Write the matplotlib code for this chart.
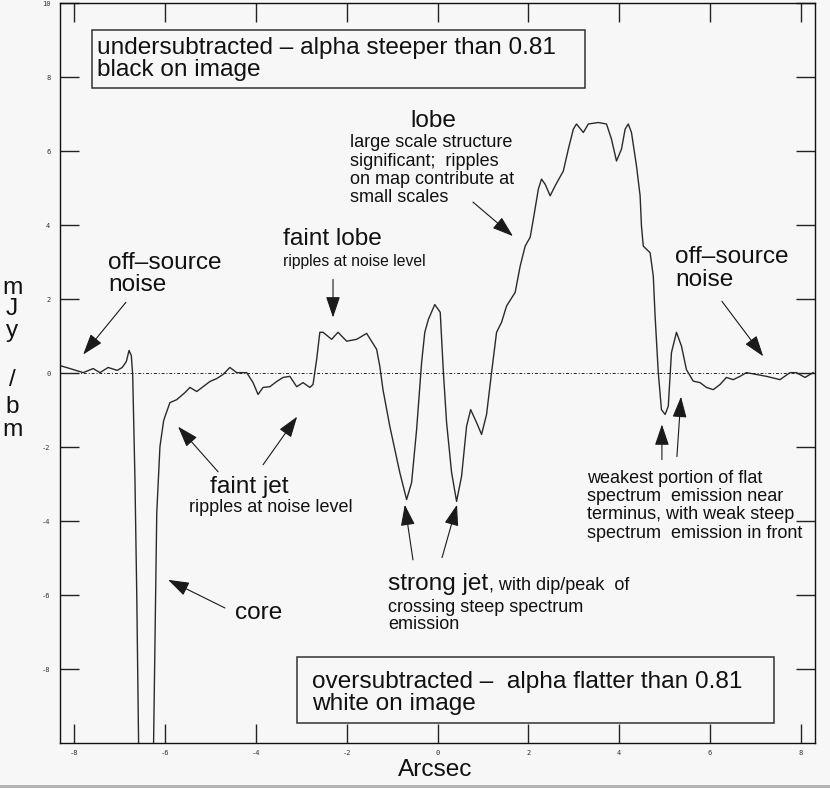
import matplotlib
matplotlib.use('Agg')
import matplotlib.pyplot as plt
from matplotlib.patches import Rectangle

# ---------------- data ----------------
arcsec = [-8.31, -8.09, -7.80, -7.58, -7.43, -7.25, -7.05, -6.94, -6.85, -6.79, -6.74, -6.71,
          -6.66, -6.62, -6.58, -6.42, -6.25, -6.18, -6.11, -6.03, -6.00, -5.89, -5.74, -5.56,
          -5.45, -5.30, -5.16, -5.01, -4.86, -4.72, -4.57, -4.42, -4.20, -4.06, -3.95, -3.84,
          -3.69, -3.54, -3.40, -3.25, -3.10, -2.96, -2.81, -2.74, -2.66, -2.59, -2.52, -2.33,
          -2.19, -2.00, -1.78, -1.56, -1.34, -1.27, -1.20, -1.05, -0.94, -0.83, -0.68, -0.57,
          -0.46, -0.35, -0.28, -0.20, -0.06, 0.06, 0.13, 0.20, 0.31, 0.42, 0.53, 0.64, 0.73,
          0.86, 0.97, 1.08, 1.19, 1.30, 1.41, 1.52, 1.71, 1.82, 1.93, 2.04, 2.11, 2.22, 2.29,
          2.37, 2.48, 2.59, 2.77, 2.88, 2.99, 3.06, 3.21, 3.32, 3.54, 3.72, 3.83, 3.94, 4.05,
          4.13, 4.20, 4.27, 4.38, 4.46, 4.49, 4.53, 4.68, 4.75, 4.79, 4.86, 4.93, 5.01, 5.08,
          5.15, 5.26, 5.37, 5.48, 5.63, 5.78, 5.92, 6.07, 6.22, 6.36, 6.51, 6.66, 6.80, 7.02,
          7.24, 7.54, 7.76, 7.90, 8.09, 8.27]
flux_mjy = [0.20, 0.12, 0.01, 0.12, 0.01, 0.15, 0.07, 0.15, 0.31, 0.61, 0.47, -0.04,
            -2.88, -6.02, -10.0, -13.0, -10.0, -3.78, -1.99, -1.30, -1.18, -0.80, -0.72, -0.53,
            -0.39, -0.50, -0.37, -0.23, -0.15, -0.04, 0.15, 0.01, 0.01, -0.26, -0.58, -0.39,
            -0.37, -0.23, -0.12, -0.09, -0.37, -0.26, -0.39, -0.31, 0.37, 1.10, 1.10, 0.91,
            1.10, 0.86, 0.91, 1.07, 0.64, 0.18, -0.45, -1.44, -2.07, -2.69, -3.42, -2.96,
            -1.53, 0.28, 1.10, 1.45, 1.85, 1.64, 0.01, -1.34, -2.69, -3.47, -2.79, -1.44, -0.99,
            -1.34, -1.66, -1.12, 0.01, 1.10, 1.37, 1.81, 2.18, 2.89, 3.43, 3.67, 4.16, 4.97, 5.24,
            5.10, 4.79, 5.06, 5.46, 6.05, 6.59, 6.73, 6.50, 6.73, 6.77, 6.73, 6.32, 5.73, 6.05,
            6.59, 6.73, 6.50, 5.60, 4.79, 3.97, 3.43, 3.25, 2.62, 1.54, 0.01, -0.99, -1.12, -0.90,
            0.55, 1.10, 0.73, 0.09, -0.22, -0.26, -0.39, -0.45, -0.31, -0.12, -0.18, -0.09, 0.01, -0.04,
            -0.09, -0.18, 0.01, 0.01, -0.12, 0.01]

xticks = [-8, -6, -4, -2, 0, 2, 4, 6, 8]
xtick_labels = ['-8', '-6', '-4', '-2', '0', '2', '4', '6', '8']
yticks = [-8, -6, -4, -2, 0, 2, 4, 6, 8, 10]
ytick_labels = ['-8', '-6', '-4', '-2', '0', '2', '4', '6', '8', '10']
xlim = (-8.31, 8.31)
ylim = (-10, 10)
xlabel = 'Arcsec'
ylabel_chars = ['m', 'J', 'y', '/', 'b', 'm']

box_top_text = 'undersubtracted \u2013 alpha steeper than 0.81\nblack on image'
box_bottom_text = 'oversubtracted \u2013  alpha flatter than 0.81\nwhite on image'

# ---------------- style ----------------
BG = '#f7f7f7'
INK = '#111111'
FONT = ['Liberation Sans', 'DejaVu Sans']
BIG = 17.6
SMALL = 13
plt.rcParams['font.family'] = FONT

fig = plt.figure(figsize=(8.3, 7.88), dpi=100, facecolor=BG)
ax = fig.add_axes([60 / 830, 45 / 788, 755 / 830, 740 / 788])
ax.set_facecolor(BG)

ax.plot(arcsec, flux_mjy, color='#2a2a2a', lw=1.0)
ax.axhline(0, color='#222222', lw=0.7, ls=(0, (3, 2, 1, 2)))

ax.set_xlim(*xlim)
ax.set_ylim(*ylim)
ax.set_xticks(xticks)
ax.set_xticklabels(xtick_labels, family='DejaVu Sans Mono', fontsize=5, color='#333333')
ax.set_yticks(yticks)
ax.set_yticklabels(ytick_labels, family='DejaVu Sans Mono', fontsize=5, color='#333333')
ax.tick_params(axis='both', direction='in', length=14, width=1.0, color='#222222',
               top=True, right=True)
ax.tick_params(axis='y', pad=7)
ax.tick_params(axis='x', pad=5)
for s in ax.spines.values():
    s.set_color(INK)
    s.set_linewidth(1.0)

# y label stacked characters
ylabel_y = [288, 309, 331, 380, 407, 430]
for ch, py in zip(ylabel_chars, ylabel_y):
    fig.text(12 / 830, 1 - py / 788, ch, ha='center', va='center', fontsize=BIG, color=INK)
fig.text(435 / 830, 1 - 770 / 788, xlabel, ha='center', va='center', fontsize=BIG, color=INK)

# bottom gray frame line
fig.patches.append(Rectangle((0, 0), 1, 3 / 788, transform=fig.transFigure,
                             facecolor='#b4b4b4', edgecolor='none'))

# boxes
ax.add_patch(Rectangle((-7.60, 7.70), 10.85, 1.57, fill=False, edgecolor='#333333', lw=1.1))
ax.text(-7.49, 8.49, box_top_text, ha='left', va='center', fontsize=BIG,
        linespacing=1.02, color=INK)
ax.add_patch(Rectangle((-3.09, -9.46), 10.50, 1.79, fill=False, edgecolor='#333333', lw=1.1))
ax.text(-2.76, -8.64, box_bottom_text, ha='left', va='center', fontsize=BIG,
        linespacing=0.98, color=INK)

ARROW = dict(arrowstyle='-|>,head_length=0.65,head_width=0.22', mutation_scale=20,
             lw=0.8, color='#1a1a1a', shrinkA=0, shrinkB=0)

def arrow(tail, tip):
    ax.annotate('', xy=tip, xytext=tail, arrowprops=ARROW)

# off-source noise (left)
ax.text(-7.25, 2.68, 'off\u2013source\nnoise', ha='left', va='center', fontsize=BIG,
        linespacing=1.02, color=INK)
arrow((-6.86, 1.91), (-7.80, 0.50))

# faint lobe
ax.text(-3.40, 3.61, 'faint lobe', ha='left', va='center', fontsize=BIG, color=INK)
ax.text(-3.40, 3.02, 'ripples at noise level', ha='left', va='center', fontsize=11.3, color=INK)
arrow((-2.30, 2.53), (-2.30, 1.50))

# lobe
ax.text(-0.10, 6.81, 'lobe', ha='center', va='center', fontsize=BIG, color=INK)
ax.text(-1.93, 5.48, 'large scale structure\nsignificant;  ripples\non map contribute at\nsmall scales',
        ha='left', va='center', fontsize=SMALL, linespacing=1.1, color=INK)
arrow((0.78, 4.62), (1.66, 3.70))

# off-source noise (right)
ax.text(5.23, 2.82, 'off\u2013source\nnoise', ha='left', va='center', fontsize=BIG,
        linespacing=1.02, color=INK)
arrow((6.26, 1.94), (7.17, 0.45))

# faint jet
ax.text(-4.15, -3.07, 'faint jet', ha='center', va='center', fontsize=BIG, color=INK)
ax.text(-3.68, -3.64, 'ripples at noise level', ha='center', va='center', fontsize=SMALL, color=INK)
arrow((-4.83, -2.67), (-5.71, -1.45))
arrow((-3.84, -2.48), (-3.09, -1.18))

# core
ax.text(-4.46, -6.49, 'core', ha='left', va='center', fontsize=BIG, color=INK)
arrow((-4.68, -6.35), (-5.93, -5.59))

# strong jet
ax.text(-1.09, -5.86, 'strong jet', ha='left', va='baseline', fontsize=BIG, color=INK)
ax.text(1.13, -5.86, ', with dip/peak  of', ha='left', va='baseline', fontsize=SMALL, color=INK)
ax.text(-1.09, -6.46, 'crossing steep spectrum', ha='left', va='baseline', fontsize=SMALL, color=INK)
ax.text(-1.09, -6.93, 'emission', ha='left', va='baseline', fontsize=SMALL, color=INK)
arrow((-0.54, -5.05), (-0.72, -3.56))
arrow((0.10, -4.99), (0.43, -3.56))

# terminus
ax.text(3.29, -3.59, 'weakest portion of flat\nspectrum  emission near\nterminus, with weak steep\n'
        'spectrum  emission in front', ha='left', va='center', fontsize=SMALL,
        linespacing=1.1, color=INK)
arrow((4.94, -2.34), (4.94, -1.39))
arrow((5.27, -2.26), (5.36, -0.64))

fig.savefig('out.png', dpi=100, facecolor=BG)
